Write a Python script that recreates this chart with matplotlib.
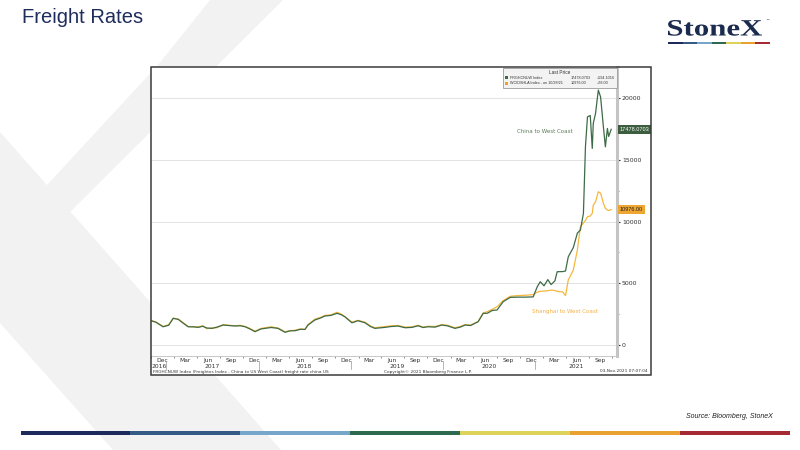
"""
Freight rates slide: Freightos China -> US West Coast vs
Drewry Shanghai -> Los Angeles, Bloomberg style chart.
"""

import pandas as pd
import matplotlib
matplotlib.use('Agg')
import matplotlib.pyplot as plt
import matplotlib.dates as mdates
from matplotlib.ticker import MultipleLocator
from matplotlib.patches import Polygon, Rectangle, PathPatch
from matplotlib.textpath import TextPath
from matplotlib.font_manager import FontProperties
from matplotlib.transforms import Affine2D

# data (USD per FEU)
dates = ['2016-11-01', '2016-11-20', '2016-12-19', '2017-01-10', '2017-01-28', '2017-02-17',
         '2017-03-10', '2017-03-28', '2017-04-20', '2017-05-07', '2017-05-25', '2017-06-10',
         '2017-07-01', '2017-07-20', '2017-08-14', '2017-09-05', '2017-10-01', '2017-10-20',
         '2017-11-09', '2017-11-28', '2017-12-18', '2018-01-10', '2018-01-27', '2018-02-20',
         '2018-03-19', '2018-04-16', '2018-05-05', '2018-05-26', '2018-06-15', '2018-07-04',
         '2018-07-16', '2018-08-12', '2018-09-05', '2018-09-21', '2018-10-15', '2018-11-08',
         '2018-11-25', '2018-12-09', '2019-01-06', '2019-01-30', '2019-02-27', '2019-03-20',
         '2019-04-07', '2019-05-17', '2019-06-10', '2019-07-07', '2019-08-05', '2019-09-01',
         '2019-09-25', '2019-10-15', '2019-11-03', '2019-12-01', '2019-12-28', '2020-01-20',
         '2020-02-18', '2020-03-10', '2020-03-29', '2020-04-20', '2020-05-20', '2020-06-09',
         '2020-06-25', '2020-07-15', '2020-08-03', '2020-08-27', '2020-09-24', '2020-10-20',
         '2020-11-20', '2020-12-24', '2021-01-09', '2021-01-21', '2021-02-05', '2021-02-20',
         '2021-03-05', '2021-03-20', '2021-03-29', '2021-04-20', '2021-05-01', '2021-05-12',
         '2021-06-01', '2021-06-17', '2021-06-29', '2021-07-11', '2021-07-19', '2021-07-27',
         '2021-08-07', '2021-08-15', '2021-08-19', '2021-08-28', '2021-09-08', '2021-09-17',
         '2021-09-28', '2021-10-06', '2021-10-14', '2021-10-19', '2021-10-29']

china_wc = [1970, 1850, 1480, 1600, 2160, 2080,
            1750, 1480, 1470, 1430, 1520, 1380,
            1350, 1450, 1620, 1580, 1540, 1560,
            1480, 1300, 1080, 1300, 1350, 1420,
            1350, 1030, 1150, 1160, 1270, 1270,
            1620, 2025, 2200, 2350, 2400, 2570,
            2450, 2290, 1800, 1970, 1800, 1500,
            1350, 1430, 1500, 1540, 1400, 1430,
            1560, 1420, 1480, 1450, 1620, 1550,
            1350, 1450, 1620, 1580, 1890, 2570,
            2570, 2800, 2840, 3510, 3860, 3880,
            3880, 3900, 4720, 5130, 4800, 5300,
            4900, 5200, 5940, 5950, 6000, 7150,
            7900, 9070, 9320, 10670, 16060, 18490,
            18600, 15930, 17960, 18770, 20660, 20100,
            17700, 16060, 17550, 16900, 17478]

shanghai_wc = [1990, 1870, 1500, 1650, 2180, 2100,
               1780, 1500, 1480, 1470, 1560, 1320,
               1380, 1400, 1650, 1600, 1560, 1600,
               1500, 1340, 1120, 1340, 1400, 1480,
               1380, 1080, 1150, 1200, 1310, 1250,
               1650, 2100, 2250, 2400, 2450, 2650,
               2500, 2300, 1850, 2000, 1850, 1550,
               1400, 1500, 1550, 1580, 1450, 1470,
               1600, 1450, 1520, 1500, 1650, 1600,
               1400, 1500, 1650, 1620, 1900, 2600,
               2700, 2900, 3100, 3600, 3950, 4000,
               4030, 4080, 4290, 4350, 4380, 4400,
               4450, 4420, 4350, 4300, 4000, 5270,
               6080, 7700, 9590, 9880, 10100, 10400,
               10450, 10670, 11340, 11610, 12420, 12300,
               11500, 11070, 10940, 10900, 10976]

yticks = [0, 5000, 10000, 15000, 20000]
years = [2016, 2017, 2018, 2019, 2020, 2021]
stripe_colors = ['#1f2a5c', '#355a86', '#76a6c9', '#2d6a4f', '#ddd35b', '#e9a22f', '#a52a33']

green = '#3e6b47'
yellow = '#f5b83d'
navy = '#1f2d5c'
small = 'Liberation Sans'

W, H = 800, 450
fig = plt.figure(figsize=(8, 4.5), dpi=100)

# page background with the big grey "X" watermark
page = fig.add_axes([0, 0, 1, 1], zorder=0)
page.set_xlim(0, W)
page.set_ylim(H, 0)
page.axis('off')
page.add_patch(Polygon([(0, 132), (281, 450), (113, 450), (0, 323)], closed=True,
                       fc='#f2f2f2', ec='none'))
page.add_patch(Polygon([(210, 0), (283, 0), (70, 212), (0, 283), (0, 238), (47, 185), (158, 65)],
                       closed=True, fc='#f2f2f2', ec='none'))
page.add_patch(Rectangle((151, 67), 500, 308, fc='white', ec='none'))

# the chart itself
x = pd.to_datetime(dates)
ax = fig.add_axes([151 / W, 1 - 356 / H, (617 - 151) / W, (356 - 67) / H], zorder=1)
ax.set_facecolor('none')
ax.plot(x, shanghai_wc, color=yellow, lw=0.9)
ax.plot(x, china_wc, color=green, lw=0.9)

x0, x1 = pd.Timestamp('2016-11-01'), pd.Timestamp('2021-11-21')
ax.set_xlim(x0, x1)
ax.set_ylim(-890, 22530)

ax.yaxis.tick_right()
ax.set_yticks(yticks)
ax.yaxis.set_minor_locator(MultipleLocator(2500))
ax.tick_params(axis='y', which='major', length=2, width=0.8, labelsize=4.5, pad=1.5,
               colors='#333333')
ax.tick_params(axis='y', which='minor', length=1.2, width=0.6, color='#666666')
ax.grid(axis='y', color='#e3e3e3', lw=0.7)

ax.xaxis.set_major_locator(mdates.MonthLocator(bymonth=[3, 6, 9, 12], bymonthday=15))
ax.xaxis.set_major_formatter(mdates.DateFormatter('%b'))
ax.xaxis.set_minor_locator(mdates.MonthLocator(bymonth=[2, 5, 8, 11]))
ax.tick_params(axis='x', which='major', length=0, labelsize=4.3, pad=1.5, colors='#333333')
ax.tick_params(axis='x', which='minor', length=1.5, width=0.6, color='#777777')

for side in ['left', 'top']:
    ax.spines[side].set_visible(False)
ax.spines['right'].set_color('#c4c4c4')
ax.spines['right'].set_linewidth(2.2)
ax.spines['bottom'].set_color('#c8c8c8')
ax.spines['bottom'].set_linewidth(0.7)

# year row under the months
xt = ax.get_xaxis_transform()
for yr in years:
    a = max(pd.Timestamp(f'{yr}-01-01'), x0)
    b = min(pd.Timestamp(f'{yr + 1}-01-01'), x1)
    ax.text(a + (b - a) / 2, -0.036, str(yr), transform=xt, ha='center', va='center',
            fontsize=4.3, color='#333333')
    if yr > 2016:
        ax.plot([a, a], [-0.018, -0.044], transform=xt, color='#999999', lw=0.5, clip_on=False)

# series names and last-price boxes
ax.text(pd.Timestamp('2021-02-09'), 17330, 'China to West Coast', fontsize=4, color='#5b7d57',
        ha='center', va='center')
ax.text(pd.Timestamp('2021-04-30'), 2750, 'Shanghai to West Coast', fontsize=4, color='#f4b04a',
        ha='center', va='center')
ax.annotate('17478.0703', xy=(1, china_wc[-1]), xycoords=('axes fraction', 'data'),
            xytext=(2.0, 0), textcoords='offset points', ha='left', va='center', fontsize=4.0,
            family=small, color='white', annotation_clip=False,
            bbox=dict(boxstyle='square,pad=0.3', fc='#3c5e3e', ec='none'))
ax.annotate('10976.00', xy=(1, shanghai_wc[-1]), xycoords=('axes fraction', 'data'),
            xytext=(2.0, 0), textcoords='offset points', ha='left', va='center', fontsize=4.0,
            family=small, color='#222222', annotation_clip=False,
            bbox=dict(boxstyle='square,pad=0.3', fc='#eea531', ec='none'))

# overlay: frame, legend, footer, slide decorations
top = fig.add_axes([0, 0, 1, 1], zorder=2)
top.set_xlim(0, W)
top.set_ylim(H, 0)
top.axis('off')
top.set_facecolor('none')
top.add_patch(Rectangle((151, 67), 500, 308, fc='none', ec='#3a3a3a', lw=1.1))

top.add_patch(Rectangle((503, 67.5), 114, 20.5, fc='#f3f3f3', ec='#9a9a9a', lw=0.6))
top.text(560, 72.5, 'Last Price', fontsize=3.4, family=small, ha='center', va='center',
         color='#333333')
top.add_patch(Rectangle((505, 76.3), 3, 3, fc=green, ec='none'))
top.add_patch(Rectangle((505, 81.7), 3, 3, fc='#f0a420', ec='none'))
legend_rows = [(77.8, 'FRGHCNUW Index', '17478.0703', '+594.1016'),
               (83.2, 'WCIDSHLA Index - on 10/28/21', '10976.00', '+78.00')]
for yy, name, last, chg in legend_rows:
    top.text(510, yy, name, fontsize=2.7, family=small, va='center', color='#333333')
    top.text(571, yy, last, fontsize=2.7, family=small, va='center', color='#333333')
    top.text(597, yy, chg, fontsize=2.7, family=small, va='center', color='#333333')

top.text(153, 371.5, 'FRGHCNUW Index (Freightos Index - China to US West Coast) freight rate china US',
         fontsize=3.1, va='center', color='#333333')
top.text(428, 371.5, 'Copyright\u00a9 2021 Bloomberg Finance L.P.', fontsize=3.1, ha='center',
         va='center', color='#333333')
top.text(648, 371.5, '03-Nov-2021 07:07:04', fontsize=3.1, ha='right', va='center', color='#333333')

top.text(22, 23, 'Freight Rates', fontsize=14.5, family='Liberation Sans', color=navy,
         va='baseline')

# StoneX logo
fp = FontProperties(family='Liberation Serif', weight='bold')
tp = TextPath((0, 0), 'StoneX', size=1, prop=fp)
bb = tp.get_extents()
sx = (762 - 668) / bb.width
sy = 15.5 / bb.y1
logo = tp.transformed(Affine2D().translate(-bb.x0, 0).scale(sx, -sy).translate(668, 35.5))
top.add_patch(PathPatch(logo, fc='#1b2b4f', ec='none'))
top.text(765, 21, '\u2122', fontsize=3, color='#1b2b4f', va='center')
seg = (770 - 668) / len(stripe_colors)
for i, c in enumerate(stripe_colors):
    top.add_patch(Rectangle((668 + i * seg, 41.7), seg, 2, fc=c, ec='none'))

# bottom stripe and source
seg = (790 - 20.5) / len(stripe_colors)
for i, c in enumerate(stripe_colors):
    top.add_patch(Rectangle((20.5 + i * seg, 430.5), seg, 4.5, fc=c, ec='none'))
top.text(773, 416, 'Source: Bloomberg, StoneX', fontsize=5, style='italic',
         family='Liberation Sans', ha='right', va='center', color='#222222')

fig.savefig('out.png', dpi=100)
